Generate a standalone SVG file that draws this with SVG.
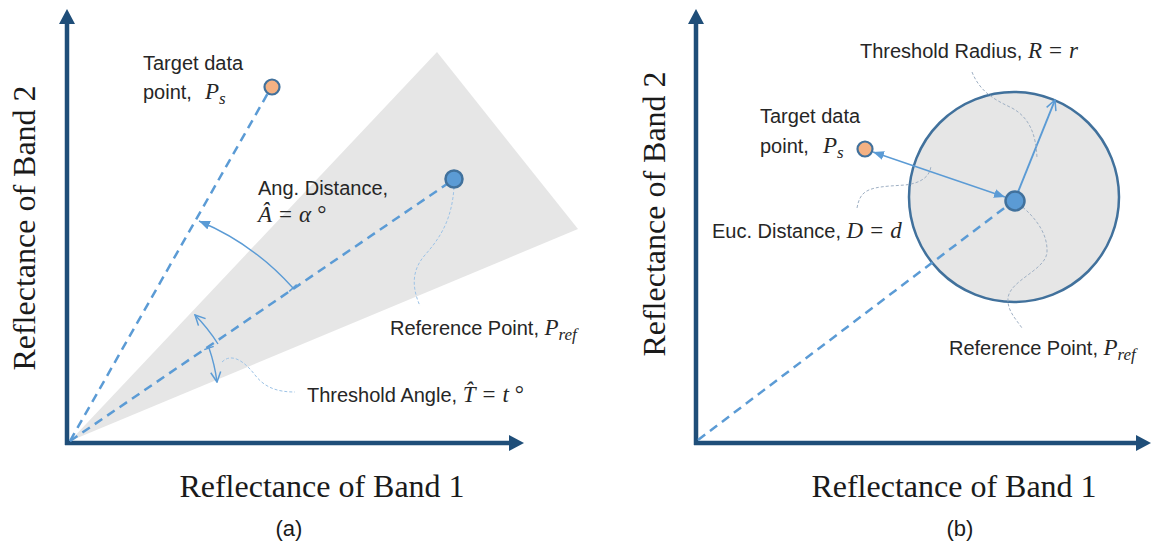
<svg xmlns="http://www.w3.org/2000/svg" width="1153" height="547" viewBox="0 0 1153 547">
<style>
  .axis{stroke:#1f4e79;stroke-width:4.5;fill:none}
  .dash{stroke:#5b9bd5;stroke-width:2.5;stroke-dasharray:9 6;fill:none}
  .thin{stroke:#5b9bd5;stroke-width:1.4;fill:none}
  .lead-a{stroke:#9dc3e6;stroke-width:1;stroke-dasharray:3 2;fill:none}
  .lead-b{stroke:#9fb0c4;stroke-width:1;stroke-dasharray:3 2;fill:none}
  .lbl{font-family:"Liberation Sans",Arial,sans-serif;font-size:20px;fill:#262626}
  .m{font-family:"Liberation Serif","DejaVu Serif",serif;font-style:italic;font-size:23px}
  .mu{font-family:"Liberation Serif","DejaVu Serif",serif;font-style:normal;font-size:23px}
  .sub{font-family:"Liberation Serif","DejaVu Serif",serif;font-style:italic;font-size:17px}
  .ax{font-family:"Liberation Serif","Times New Roman",serif;font-size:32px;fill:#1a1a1a}
  .cap{font-family:"Liberation Sans",Arial,sans-serif;font-size:22px;fill:#1a1a1a;text-anchor:middle}
  .tgt{fill:#f4b183;stroke:#41719c;stroke-width:2.2}
  .ref{fill:#5b9bd5;stroke:#41719c;stroke-width:2.5}
</style>
<defs>
  <marker id="axArrow" markerUnits="userSpaceOnUse" viewBox="0 -8 15 16" refX="0" refY="0" markerWidth="15" markerHeight="16" orient="auto">
    <path d="M0,-8 L15,0 L0,8 z" fill="#1f4e79"/>
  </marker>
  <marker id="fillArrow" markerUnits="userSpaceOnUse" viewBox="0 -4.5 11 9" refX="11" refY="0" markerWidth="11" markerHeight="9" orient="auto-start-reverse">
    <path d="M0,-4.5 L11,0 L0,4.5 z" fill="#5b9bd5"/>
  </marker>
  <marker id="openArrow" markerUnits="userSpaceOnUse" viewBox="-1 -6 12 12" refX="10" refY="0" markerWidth="12" markerHeight="12" orient="auto">
    <path d="M0,-5 L10,0 L0,5" fill="none" stroke="#5b9bd5" stroke-width="1.5"/>
  </marker>
  <marker id="tick" markerUnits="userSpaceOnUse" viewBox="-2 -6 4 12" refX="0" refY="0" markerWidth="4" markerHeight="12" orient="auto">
    <path d="M0,-5 L0,5" stroke="#5b9bd5" stroke-width="1.5"/>
  </marker>
</defs>

<!-- Panel (a) -->
<g id="wedge-a">
  <polygon points="70,441 437,52 578,229" fill="#e6e6e6"/>
</g>
<g id="axes-a">
  <line class="axis" x1="67" y1="445" x2="67" y2="24" marker-end="url(#axArrow)"/>
  <line class="axis" x1="65" y1="443" x2="509" y2="443" marker-end="url(#axArrow)"/>
  <text class="ax" transform="translate(35,228) rotate(-90)" text-anchor="middle">Reflectance of Band 2</text>
  <text class="ax" x="322" y="497" text-anchor="middle">Reflectance of Band 1</text>
  <text class="cap" x="289" y="536">(a)</text>
</g>
<g id="connectors-a">
  <line class="dash" x1="70" y1="441" x2="268" y2="93"/>
  <line class="dash" x1="70" y1="441" x2="447" y2="184"/>
  <path class="thin" d="M293,288 A262,262 0 0 0 199,221" marker-start="url(#tick)" marker-end="url(#fillArrow)"/>
  <path class="thin" d="M218,344 A170,170 0 0 0 195,315" marker-end="url(#openArrow)"/>
  <path class="thin" d="M209,348 A170,170 0 0 1 217,382" marker-start="url(#tick)" marker-end="url(#openArrow)"/>
  <path class="lead-a" d="M454,187 C452,220 440,238 425,255 C410,272 413,290 420,306"/>
  <path class="lead-a" d="M222,362 C232,352 245,362 255,375 C265,388 278,392 295,392"/>
</g>
<g id="target-a">
  <circle class="tgt" cx="272" cy="87" r="7.5"/>
  <text class="lbl" x="143" y="70">Target data</text>
  <text class="lbl" x="143" y="99">point, <tspan class="m" x="205">P</tspan><tspan class="sub" dy="5">s</tspan></text>
</g>
<g id="ref-a">
  <circle class="ref" cx="454" cy="179" r="8.5"/>
  <text class="lbl" x="390" y="335">Reference Point, <tspan class="m">P</tspan><tspan class="sub" dy="5">ref</tspan></text>
</g>
<g id="angdist-a">
  <text class="lbl" x="258" y="195">Ang. Distance,</text>
  <text class="lbl" x="258" y="222"><tspan class="m">Â</tspan><tspan class="mu" dx="7">=</tspan><tspan class="m" dx="7">α</tspan><tspan class="mu" dx="6">°</tspan></text>
</g>
<g id="thresh-a">
  <text class="lbl" x="307" y="402">Threshold Angle, <tspan class="m">T̂</tspan><tspan class="mu" dx="7">=</tspan><tspan class="m" dx="7">t</tspan><tspan class="mu" dx="6">°</tspan></text>
</g>

<!-- Panel (b) -->
<g id="axes-b">
  <line class="axis" x1="696" y1="445" x2="696" y2="24" marker-end="url(#axArrow)"/>
  <line class="axis" x1="694" y1="443" x2="1136" y2="443" marker-end="url(#axArrow)"/>
  <text class="ax" transform="translate(665,214) rotate(-90)" text-anchor="middle">Reflectance of Band 2</text>
  <text class="ax" x="954" y="497" text-anchor="middle">Reflectance of Band 1</text>
  <text class="cap" x="960" y="536">(b)</text>
</g>
<g id="circle-b">
  <circle cx="1014" cy="197" r="105" fill="#e6e6e6" stroke="#41719c" stroke-width="2.5"/>
</g>
<g id="connectors-b">
  <line class="dash" x1="698" y1="440" x2="1007" y2="206"/>
  <line class="thin" x1="873" y1="152" x2="1005" y2="197" marker-start="url(#fillArrow)" marker-end="url(#fillArrow)"/>
  <line class="thin" style="stroke-width:2" x1="1018" y1="192" x2="1055" y2="100" marker-end="url(#openArrow)"/>
  <path class="lead-b" d="M972,72 C980,92 995,100 1012,108 C1030,118 1036,135 1037,158"/>
  <path class="lead-b" d="M857,208 C860,192 866,188 890,186 L905,185 C922,183 930,176 931,166"/>
  <path class="lead-b" d="M1015,201 C1030,212 1048,230 1047,252 C1046,270 1010,280 1008,298 C1007,310 1015,318 1022,328"/>
</g>
<g id="target-b">
  <circle class="tgt" cx="865" cy="149" r="7.5"/>
  <text class="lbl" x="760" y="123">Target data</text>
  <text class="lbl" x="760" y="153">point, <tspan class="m" x="823">P</tspan><tspan class="sub" dy="5">s</tspan></text>
</g>
<g id="ref-b">
  <circle class="ref" cx="1015" cy="201" r="9.5"/>
  <text class="lbl" x="949" y="355">Reference Point, <tspan class="m">P</tspan><tspan class="sub" dy="5">ref</tspan></text>
</g>
<g id="radius-b">
  <text class="lbl" x="860" y="58">Threshold Radius, <tspan class="m">R</tspan><tspan class="mu" dx="7">=</tspan><tspan class="m" dx="7">r</tspan></text>
</g>
<g id="eucdist-b">
  <text class="lbl" x="712" y="238">Euc. Distance, <tspan class="m">D</tspan><tspan class="mu" dx="7">=</tspan><tspan class="m" dx="7">d</tspan></text>
</g>
</svg>
